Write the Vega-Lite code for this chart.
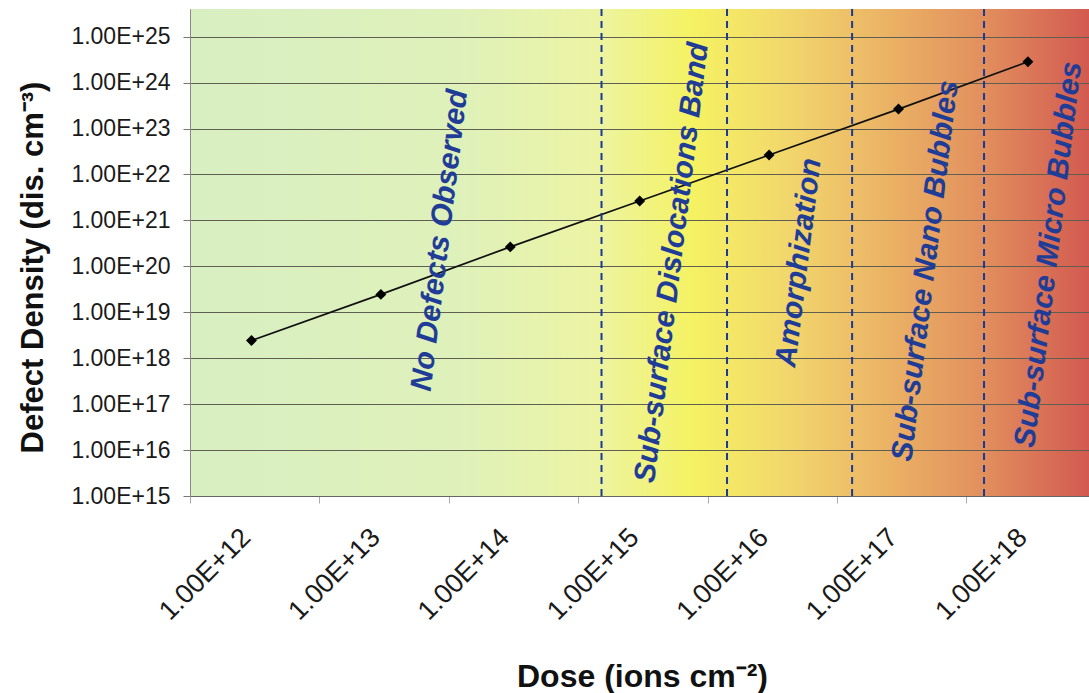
{
  "$schema": "https://vega.github.io/schema/vega-lite/v6.json",
  "width": 899,
  "height": 487,
  "autosize": {"type": "none"},
  "padding": {"left": 190, "top": 9, "right": 0, "bottom": 197},
  "background": "white",
  "view": {
    "stroke": null,
    "fill": {
      "gradient": "linear",
      "stops": [
        {"offset": 0, "color": "#d8efc2"},
        {"offset": 0.3, "color": "#dff1ba"},
        {"offset": 0.45, "color": "#ecf4a4"},
        {"offset": 0.56, "color": "#f5f262"},
        {"offset": 0.66, "color": "#f2d86c"},
        {"offset": 0.76, "color": "#ecb866"},
        {"offset": 0.88, "color": "#e2905e"},
        {"offset": 1, "color": "#d25a50"}
      ]
    }
  },
  "config": {"font": "Liberation Sans"},
  "datasets": {
    "measurements": [
      {"dose": 1e12, "density": 2.43e18},
      {"dose": 1e13, "density": 2.45e19},
      {"dose": 1e14, "density": 2.65e20},
      {"dose": 1e15, "density": 2.65e21},
      {"dose": 1e16, "density": 2.65e22},
      {"dose": 1e17, "density": 2.65e23},
      {"dose": 1e18, "density": 2.85e24}
    ],
    "thresholds": [
      {"dose": 5.07e14},
      {"dose": 4.73e15},
      {"dose": 4.38e16},
      {"dose": 4.58e17}
    ],
    "regions": [
      {"dose": 2.86e13, "density": 3.7e20, "label": "No Defects Observed"},
      {"dose": 1.78e15, "density": 1.2e20, "label": "Sub-surface Dislocations Band"},
      {"dose": 1.7e16, "density": 1.2e20, "label": "Amorphization"},
      {"dose": 1.62e17, "density": 8e19, "label": "Sub-surface Nano Bubbles"},
      {"dose": 1.45e18, "density": 1.8e20, "label": "Sub-surface Micro Bubbles"}
    ]
  },
  "layer": [
    {
      "data": {"name": "measurements"},
      "mark": {"type": "line", "color": "#111111", "strokeWidth": 1.7},
      "encoding": {
        "x": {
          "field": "dose",
          "type": "quantitative",
          "scale": {"type": "log", "domain": [3.3497e11, 2.965e18], "nice": false, "zero": false},
          "axis": {
            "values": [3.3497e11, 3.3497e12, 3.3497e13, 3.3497e14, 3.3497e15, 3.3497e16, 3.3497e17],
            "labelExpr": "'1.00E+' + round(log(datum.value)/LN10 + 0.475)",
            "grid": false,
            "domain": true,
            "domainColor": "#666666",
            "domainWidth": 1,
            "ticks": true,
            "tickColor": "#aaaaaa",
            "tickSize": 7,
            "labelAngle": -45,
            "labelAlign": "right",
            "labelBaseline": "middle",
            "labelOffset": 56,
            "labelPadding": 30,
            "labelFontSize": 27,
            "labelColor": "#1a1a1a",
            "labelOverlap": false,
            "labelFlush": false,
            "labelBound": false,
            "title": "Dose (ions cm⁻²)",
            "titleFontSize": 32,
            "titleFontWeight": "bold",
            "titleColor": "#111111",
            "titleX": 452,
            "titleY": 180,
            "titleAlign": "center",
            "titleBaseline": "middle"
          }
        },
        "y": {
          "field": "density",
          "type": "quantitative",
          "scale": {"type": "log", "domain": [1e15, 4e25], "nice": false, "zero": false},
          "axis": {
            "values": [1e15, 1e16, 1e17, 1e18, 1e19, 1e20, 1e21, 1e22, 1e23, 1e24, 1e25],
            "labelExpr": "'1.00E+' + round(log(datum.value)/LN10)",
            "grid": true,
            "gridColor": "#5e5e52",
            "gridWidth": 1.1,
            "gridOpacity": 1,
            "domain": true,
            "domainColor": "#888888",
            "ticks": true,
            "tickColor": "#777777",
            "tickSize": 7,
            "labelPadding": 13,
            "labelFontSize": 23,
            "labelColor": "#1a1a1a",
            "labelOverlap": false,
            "labelFlush": false,
            "title": "Defect Density (dis. cm⁻³)",
            "titleFontSize": 31,
            "titleFontWeight": "bold",
            "titleColor": "#111111",
            "titleAngle": -90,
            "titleX": -157,
            "titleY": 258,
            "titleAlign": "center",
            "titleBaseline": "middle"
          }
        }
      }
    },
    {
      "data": {"name": "thresholds"},
      "mark": {"type": "rule", "color": "#1c3a94", "strokeWidth": 2, "strokeDash": [7, 5]},
      "encoding": {
        "x": {"field": "dose", "type": "quantitative"}
      }
    },
    {
      "data": {"name": "measurements"},
      "mark": {"type": "point", "shape": "diamond", "filled": true, "color": "#000000", "size": 120, "opacity": 1},
      "encoding": {
        "x": {"field": "dose", "type": "quantitative"},
        "y": {"field": "density", "type": "quantitative"}
      }
    },
    {
      "data": {"name": "regions"},
      "mark": {
        "type": "text",
        "angle": -83,
        "align": "center",
        "baseline": "middle",
        "font": "Liberation Sans",
        "fontSize": 30,
        "fontWeight": "bold",
        "fontStyle": "italic",
        "color": "#1f3c96"
      },
      "encoding": {
        "x": {"field": "dose", "type": "quantitative"},
        "y": {"field": "density", "type": "quantitative"},
        "text": {"field": "label", "type": "nominal"}
      }
    }
  ]
}
